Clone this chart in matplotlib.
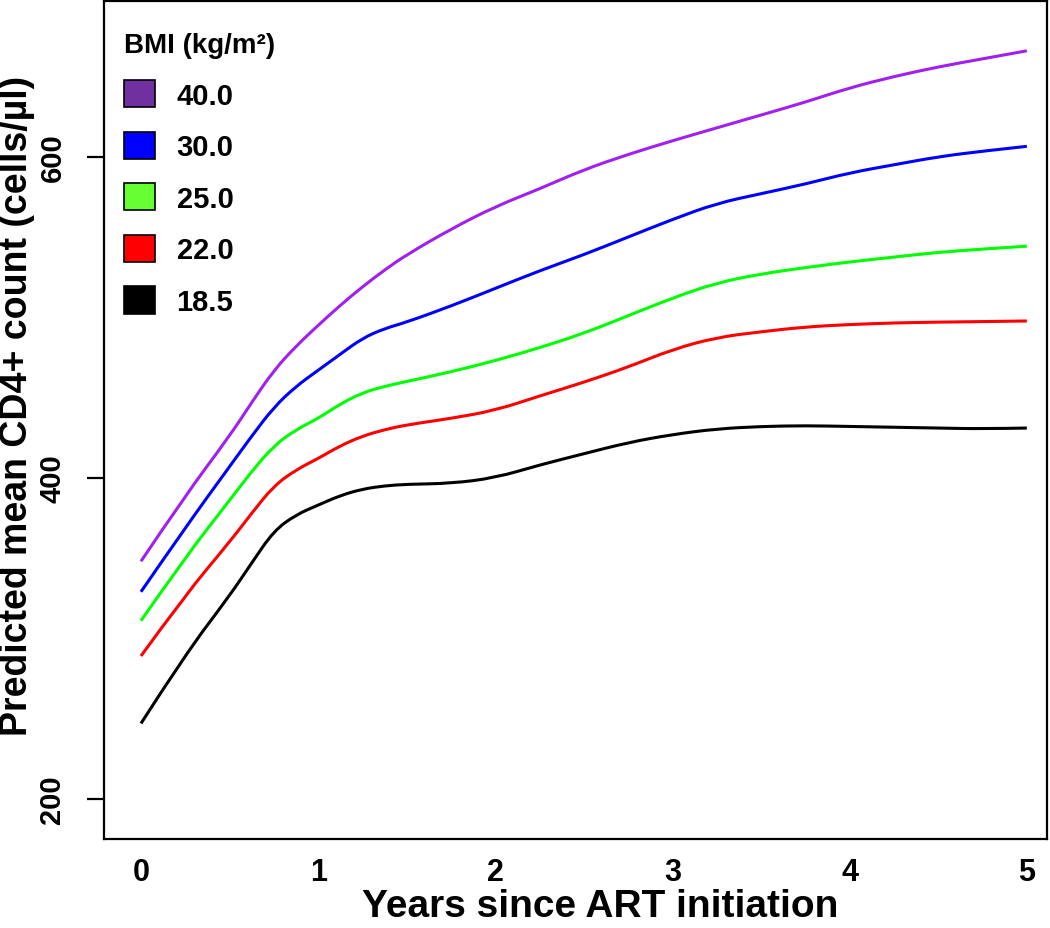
import matplotlib
matplotlib.use("Agg")
import matplotlib.pyplot as plt
from matplotlib.patches import Patch, PathPatch
from matplotlib.path import Path

plt.rcParams['font.family'] = ['Liberation Sans', 'DejaVu Sans']
plt.rcParams['font.weight'] = 'bold'

# years since ART initiation
years = [0, 0.25, 0.5, 0.625, 0.75, 0.875, 1.0, 1.125, 1.25, 1.375, 1.5, 1.75,
         2.0, 2.25, 2.5, 2.75, 3.0, 3.25, 3.5, 3.75, 4.0, 4.25, 4.5, 4.75, 5.0]

# predicted mean CD4+ count for each BMI
cd4_40 = [348, 389, 426, 447, 467, 482, 495, 507.5, 519, 529.5, 539, 555,
          569, 580, 592, 601.5, 610, 618, 626, 634, 643, 650, 656, 661, 666]
cd4_30 = [329, 369, 407, 426, 444, 457, 467, 477, 487, 493, 497, 507,
          518, 529, 539, 550, 561, 571, 577, 583, 590, 595, 600, 603.5, 606.5]
cd4_25 = [311, 350.5, 386, 404, 420, 430, 437, 446, 453, 457, 460, 466,
          473, 481, 490, 501, 512, 521.5, 527, 531, 534.5, 537.5, 540.5, 542.5, 544.3]
cd4_22 = [289, 327, 360, 378, 395, 405, 412, 420, 426, 430, 433, 437,
          442, 451, 459.5, 469, 480, 487.5, 491, 494, 495.5, 496.5, 497, 497.3, 497.7]
cd4_185 = [247, 290, 326.5, 347, 367, 377, 383, 389, 393, 395, 396, 396.5,
           400, 408, 415, 422, 427, 430.5, 432, 432.5, 432, 431.5, 431, 430.5, 431]

bmi_labels = ['40.0', '30.0', '25.0', '22.0', '18.5']
line_colors = ['#A020F0', '#0000FF', '#00FF00', '#FF0000', '#000000']
patch_colors = ['#7030A0', '#0000FF', '#66FF33', '#FF0000', '#000000']


def smooth_path(xs, ys):
    # quadratic B-spline through the data points (rendering only)
    verts = [(xs[0], ys[0])]
    codes = [Path.MOVETO]
    n = len(xs)
    for i in range(1, n - 1):
        if i < n - 2:
            end = ((xs[i] + xs[i + 1]) / 2, (ys[i] + ys[i + 1]) / 2)
        else:
            end = (xs[i + 1], ys[i + 1])
        verts += [(xs[i], ys[i]), end]
        codes += [Path.CURVE3, Path.CURVE3]
    return Path(verts, codes)


fig = plt.figure(figsize=(10.5, 9.29), dpi=100)
ax = fig.add_axes([0.099, 0.0958, 0.898, 0.902])

for series, col in zip([cd4_40, cd4_30, cd4_25, cd4_22, cd4_185], line_colors):
    ax.add_patch(PathPatch(smooth_path(years, series), facecolor='none',
                           edgecolor=col, lw=2.2, capstyle='butt'))

ax.set_xlim(-0.209, 5.113)
ax.set_ylim(175, 697)
ax.set_xticks([0, 1, 2, 3, 4, 5])
ax.set_yticks([200, 400, 600])

for sp in ax.spines.values():
    sp.set_linewidth(1.6)

ax.tick_params(axis='x', length=0, pad=13, labelsize=22)
ax.tick_params(axis='y', length=12, width=1.6, pad=15, labelsize=21)
for lab in ax.get_yticklabels():
    lab.set_rotation(90)
    lab.set_va('center')
    lab.set_fontweight('bold')
for lab in ax.get_xticklabels():
    lab.set_fontweight('bold')

ax.set_xlabel('Years since ART initiation', fontsize=28, fontweight='bold')
ax.xaxis.set_label_coords(0.526, -0.058)
ax.set_ylabel('Predicted mean CD4+ count (cells/\u00b5l)', fontsize=27, fontweight='bold')
ax.yaxis.set_label_coords(-0.073, 0.518)

handles = [Patch(facecolor=c, edgecolor='black', linewidth=1.2) for c in patch_colors]
leg = ax.legend(handles, bmi_labels, title='BMI (kg/m\u00b2)', loc='upper left',
                bbox_to_anchor=(-0.008, 0.996),
                frameon=False, fontsize=21, title_fontsize=20,
                handlelength=1.05, handleheight=1.07, handletextpad=0.75,
                labelspacing=0.75, borderaxespad=0.55, alignment='left')
for t in leg.get_texts():
    t.set_fontweight('bold')
leg.get_title().set_fontweight('bold')

fig.savefig('out.png', dpi=100)
